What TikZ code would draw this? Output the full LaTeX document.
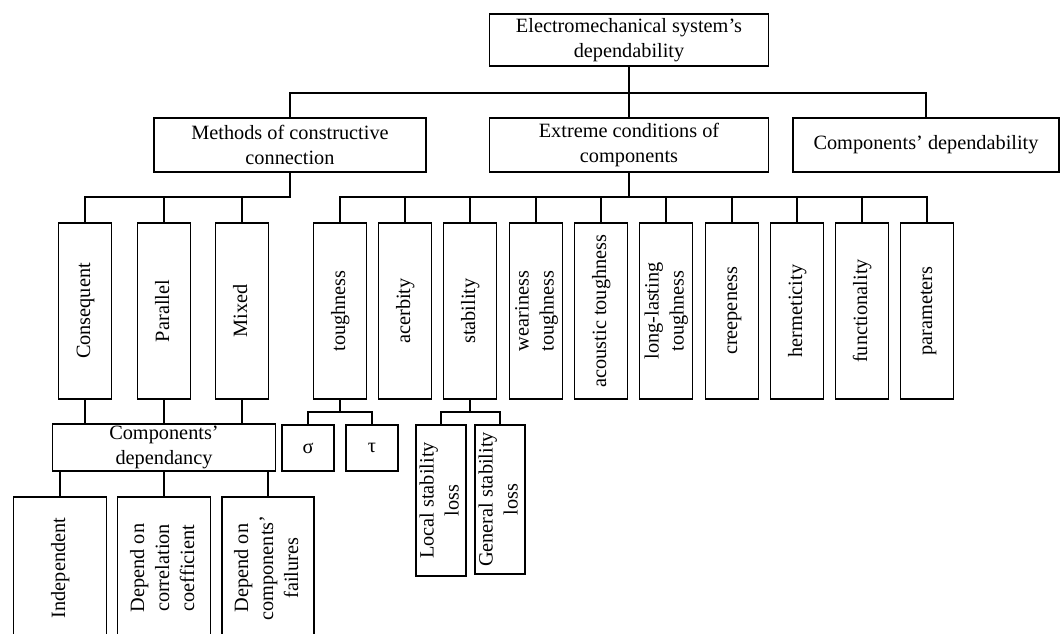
\documentclass[tikz,border=0pt]{standalone}
\usepackage{fontspec}
\setmainfont{Liberation Serif}
\newcommand{\myvert}[1]{\rotatebox{90}{\begin{tabular}{@{}c@{}}#1\end{tabular}}}
\begin{document}
\begin{tikzpicture}[x=1pt,y=-1pt,line width=1.8pt,
  box/.style={draw,inner sep=0pt,align=center,font=\fontsize{20.3}{25}\selectfont},
  hbox/.style={box,minimum height=54pt},
  vbox/.style={box,minimum width=53pt,minimum height=176pt}]
\clip (0,0) rectangle (1060,634);
\fill[white] (0,0) rectangle (1060,634);

% level 1
\node[box,minimum width=279pt,minimum height=52pt] (root) at (629,40) {Electromechanical system’s\\dependability};

% level 2
\node[hbox,minimum width=272pt] (meth) at (290,145) {Methods of constructive\\connection};
\node[hbox,minimum width=279pt] (ext) at (629,145) {Extreme conditions of\\components};
\node[hbox,minimum width=266pt] (cdep) at (926,145) {Components’ dependability};

\coordinate (bar1) at (0,93);
\draw (root.south) -- (root.south |- bar1);
\draw (meth.north) -- (meth.north |- bar1) -- (cdep.north |- bar1) -- (cdep.north);
\draw (ext.north) -- (ext.north |- bar1);

% level 3
\node[vbox] (cons) at (85,311) {\myvert{Consequent}};
\node[vbox] (par) at (164,311) {\myvert{Parallel}};
\node[vbox] (mix) at (242,311) {\myvert{Mixed}};
\node[vbox] (tough) at (340,311) {\myvert{toughness}};
\node[vbox] (acer) at (405,311) {\myvert{acerbity}};
\node[vbox] (stab) at (470,311) {\myvert{stability}};
\node[vbox] (wear) at (536,311) {\myvert{weariness\\toughness}};
\node[vbox] (acou) at (601,311) {\myvert{acoustic toughness}};
\node[vbox] (long) at (666,311) {\myvert{long-lasting\\toughness}};
\node[vbox] (creep) at (732,311) {\myvert{creepeness}};
\node[vbox] (herm) at (797,311) {\myvert{hermeticity}};
\node[vbox] (func) at (862,311) {\myvert{functionality}};
\node[vbox] (param) at (927,311) {\myvert{parameters}};

\coordinate (bar2) at (0,197);
\draw (cons.north) -- (cons.north |- bar2) -- (meth.south |- bar2) -- (meth.south);
\draw (par.north) -- (par.north |- bar2);
\draw (mix.north) -- (mix.north |- bar2);
\draw (ext.south) -- (ext.south |- bar2);
\draw (tough.north) -- (tough.north |- bar2) -- (param.north |- bar2) -- (param.north);
\foreach \n in {acer,stab,wear,acou,long,creep,herm,func}
  \draw (\n.north) -- (\n.north |- bar2);

% components' dependancy
\node[box,minimum width=223pt,minimum height=47pt] (cdepy) at (164,447.5) {Components’\\dependancy};
\draw (cons.south) -- (cons.south |- cdepy.north);
\draw (par.south) -- (par.south |- cdepy.north);
\draw (mix.south) -- (mix.south |- cdepy.north);

\node[box,minimum width=93pt,minimum height=142pt] (ind) at (60,568) {\myvert{Independent}};
\node[box,minimum width=93pt,minimum height=142pt] (corr) at (164,568) {\myvert{Depend on\\correlation\\coefficient}};
\node[box,minimum width=92pt,minimum height=142pt] (fail) at (268,568) {\myvert{Depend on\\components’\\failures}};
\draw (ind.north) -- (ind.north |- cdepy.south);
\draw (corr.north) -- (corr.north |- cdepy.south);
\draw (fail.north) -- (fail.north |- cdepy.south);

% sigma, tau
\node[box,minimum width=52pt,minimum height=46pt] (sig) at (308,448) {σ};
\node[box,minimum width=52pt,minimum height=46pt] (tau) at (372,448) {τ};
\coordinate (bar3) at (0,412);
\draw (tough.south) -- (tough.south |- bar3);
\draw (sig.north) -- (sig.north |- bar3) -- (tau.north |- bar3) -- (tau.north);

% stability losses
\node[box,minimum width=46pt,minimum height=151pt] (loc) at (441,500.5) {\myvert{Local stability\\loss}};
\node[box,minimum width=45pt,minimum height=149pt] (gen) at (500,499.5) {\myvert{General stability\\loss}};
\draw (stab.south) -- (stab.south |- bar3);
\draw (loc.north) -- (loc.north |- bar3) -- (gen.north |- bar3) -- (gen.north);
\end{tikzpicture}
\end{document}
